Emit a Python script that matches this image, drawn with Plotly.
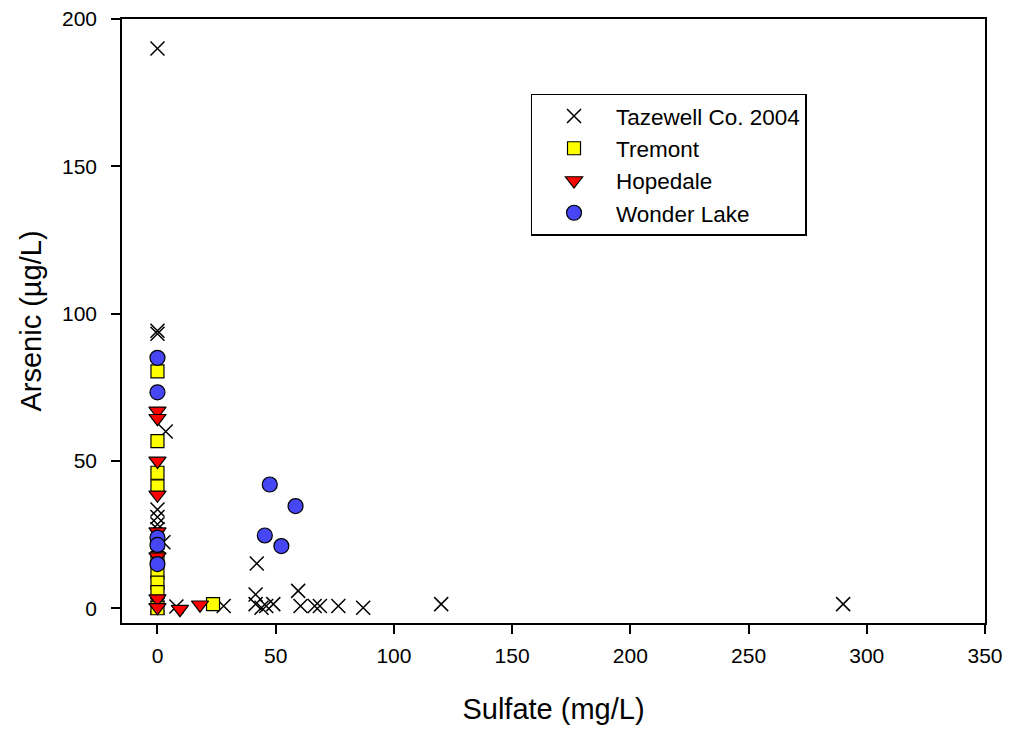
import plotly.graph_objects as go

# ---- data ----
taz_x = [0, 0, 0, 3.5, 0, 0, 0, 0, 2.5, 0, 0, 0,
         8, 28, 42, 41.5, 41.5, 44, 46, 49, 59.5, 60.5, 66.5, 68.7, 76.5, 87, 120, 290]
taz_y = [190, 94.2, 93.2, 60, 33.5, 31, 28.5, 26.8, 22.4, 18, 1.2, 0.3,
         0.6, 0.8, 15.2, 4.7, 1.4, 0.2, 0.8, 1.4, 5.9, 0.8, 0.8, 0.8, 0.8, 0.2, 1.4, 1.4]

tre_x = [0, 0, 0, 0, 0, 0, 0, 0, 0, 23.5]
tre_y = [80.4, 56.7, 46, 41.4, 17, 12.3, 8.7, 5.5, 0, 1.4]

hop_x = [0, 0, 0, 0, 0, 0, 0, 0, 9.5, 18]
hop_y = [67, 64.5, 50, 38.5, 26, 17.5, 3.3, 0.3, -0.3, 1.2]

won_x = [0, 0, 0, 0, 0, 47.5, 58.4, 45.4, 52.4]
won_y = [85, 73.3, 24, 21.5, 15, 42, 34.7, 24.7, 21.1]

names = ["Tazewell Co. 2004", "Tremont", "Hopedale", "Wonder Lake"]
x_ticks = [0, 50, 100, 150, 200, 250, 300, 350]
y_ticks = [0, 50, 100, 150, 200]

FONT = "Liberation Sans, Arial, sans-serif"

fig = go.Figure()
fig.add_trace(go.Scatter(
    x=taz_x, y=taz_y, mode="markers", name=names[0],
    marker=dict(symbol="x-thin-open", size=14, color="black",
                line=dict(color="black", width=1.5))))
fig.add_trace(go.Scatter(
    x=tre_x, y=tre_y, mode="markers", name=names[1],
    marker=dict(symbol="square", size=13, color="#FFFF00",
                line=dict(color="black", width=1.2))))
fig.add_trace(go.Scatter(
    x=hop_x, y=hop_y, mode="markers", name=names[2],
    marker=dict(symbol="triangle-down", size=15, color="#FF0000",
                line=dict(color="black", width=1.2))))
fig.add_trace(go.Scatter(
    x=won_x, y=won_y, mode="markers", name=names[3],
    marker=dict(symbol="circle", size=15, color="#4646F5",
                line=dict(color="black", width=1.2))))

axis_common = dict(
    showgrid=False, zeroline=False, showline=True, linecolor="black",
    linewidth=1.5, mirror=True, ticks="outside", ticklen=9, tickwidth=1.5,
    tickcolor="black", tickfont=dict(family=FONT, size=21, color="black"),
    automargin=False,
)

fig.update_layout(
    width=1011, height=730,
    margin=dict(l=122, r=26, t=19, b=107, autoexpand=False),
    paper_bgcolor="white", plot_bgcolor="white",
    font=dict(family=FONT, color="black"),
    xaxis=dict(range=[-15, 350], tickvals=x_ticks, ticklabelstandoff=4,
               title=dict(text="Sulfate (mg/L)", font=dict(family=FONT, size=29),
                          standoff=33),
               **axis_common),
    yaxis=dict(range=[-5, 200], tickvals=y_ticks, ticklabelstandoff=10,
               title=dict(text="Arsenic (µg/L)", font=dict(family=FONT, size=29),
                          standoff=12),
               **axis_common),
    legend=dict(x=0.4736, y=0.8765, xanchor="left", yanchor="top",
                bgcolor="white", bordercolor="black", borderwidth=1.3,
                font=dict(family=FONT, size=22.5, color="black"),
                itemwidth=74, tracegroupgap=0),
    showlegend=True,
)

fig.write_html("out.html")
